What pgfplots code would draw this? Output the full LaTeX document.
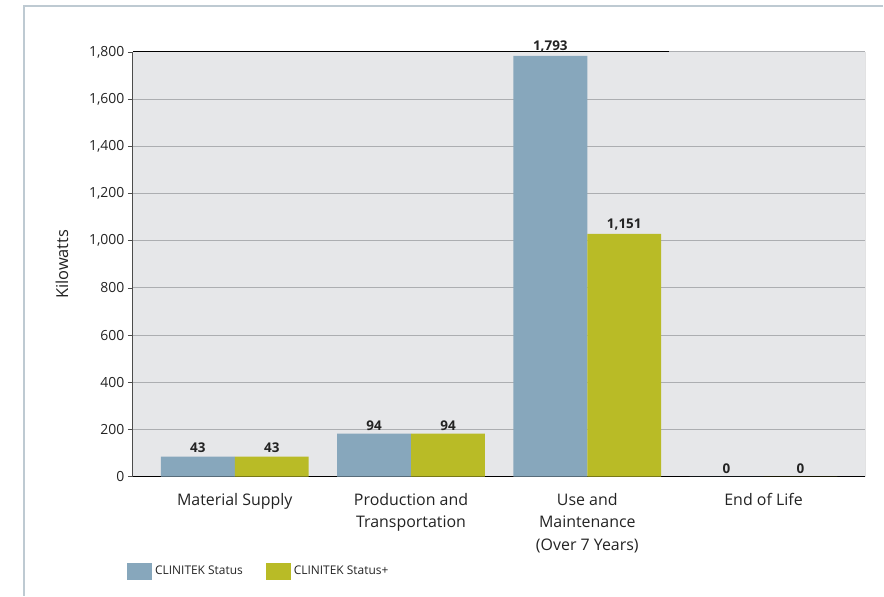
\documentclass[border=0pt]{standalone}
\usepackage{fontspec}
\setmainfont{Open Sans}
\usepackage{pgfplots}
\pgfplotsset{compat=1.18}

\definecolor{barblue}{RGB}{135,167,188}
\definecolor{bargreen}{RGB}{185,187,38}
\definecolor{plotbg}{RGB}{230,231,233}
\definecolor{gridgray}{RGB}{172,174,177}
\definecolor{framegray}{RGB}{190,202,210}
\definecolor{txt}{RGB}{35,35,35}

\begin{document}
\begin{tikzpicture}
% page frame: 884 x 596 px, axis origin at pixel (133,477)
\path (-133bp,-119bp) rectangle (751bp,477bp);
\draw[framegray, line width=1.2bp] (-109bp,-119bp) -- (-109bp,471bp) -- (751bp,471bp);

\begin{axis}[
    at={(0,0)}, anchor=south west,
    scale only axis,
    width=733bp, height=425bp,
    axis background/.style={fill=plotbg},
    axis x line*=bottom, axis y line*=left,
    x axis line style={black, line width=1bp, -},
    y axis line style={black!70, line width=1bp, -},
    xmin=-0.578, xmax=3.578,
    ymin=0, ymax=1800,
    ytick={0,200,...,1800},
    ymajorgrids,
    grid style={gridgray, line width=1bp},
    tick align=outside,
    ytick style={black!70, line width=0.8bp},
    major tick length=5bp,
    xtick={0,1,2,3},
    xtick style={draw=none},
    xticklabels={Material Supply, Production and\\Transportation, Use and\\Maintenance\\(Over 7 Years), End of Life},
    xticklabel style={align=center, font=\fontsize{16}{22.5}\selectfont, text=txt, yshift=-8bp},
    yticklabel style={font=\fontsize{14}{16}\selectfont, text=txt},
    /pgf/number format/assume math mode=true,
    /pgf/number format/1000 sep={,},
    ylabel={Kilowatts},
    every axis y label/.style={at={(axis description cs:0,0.5)}, xshift=-71bp, rotate=90, anchor=center, font=\fontsize{16.5}{18}\selectfont, text=txt},
    ybar=0pt, bar width=74bp,
    point meta=explicit symbolic,
    nodes near coords={\pgfplotspointmeta},
    every node near coord/.append style={font=\bfseries\fontsize{13.5}{15}\selectfont, text=txt, anchor=south, yshift=0bp},
    legend image code/.code={\fill[#1] (0bp,-8.5bp) rectangle (25bp,8.5bp);},
    legend columns=2,
    legend style={at={(-0.0082,-0.2024)}, anchor=north west, draw=none, fill=none, inner sep=0pt,
        font=\fontsize{12}{14}\selectfont, text=txt,
        nodes={inner sep=3bp},
        /tikz/every even column/.append style={column sep=20bp}},
]
\addplot[fill=barblue, draw=none] coordinates {(0,85) [43] (1,182) [94] (2,1783) [1,793] (3,0) [0]};
\addlegendentry{CLINITEK Status}
\addplot[fill=bargreen, draw=none] coordinates {(0,85) [43] (1,182) [94] (2,1029) [1,151] (3,0) [0]};
\addlegendentry{CLINITEK Status+}
\draw[black, line width=1bp] (axis cs:-0.578,1800) -- (axis cs:2.464,1800);
\draw[gridgray, line width=1bp] (axis cs:3.578,0) -- (axis cs:3.578,1800);
\end{axis}
\end{tikzpicture}
\end{document}
